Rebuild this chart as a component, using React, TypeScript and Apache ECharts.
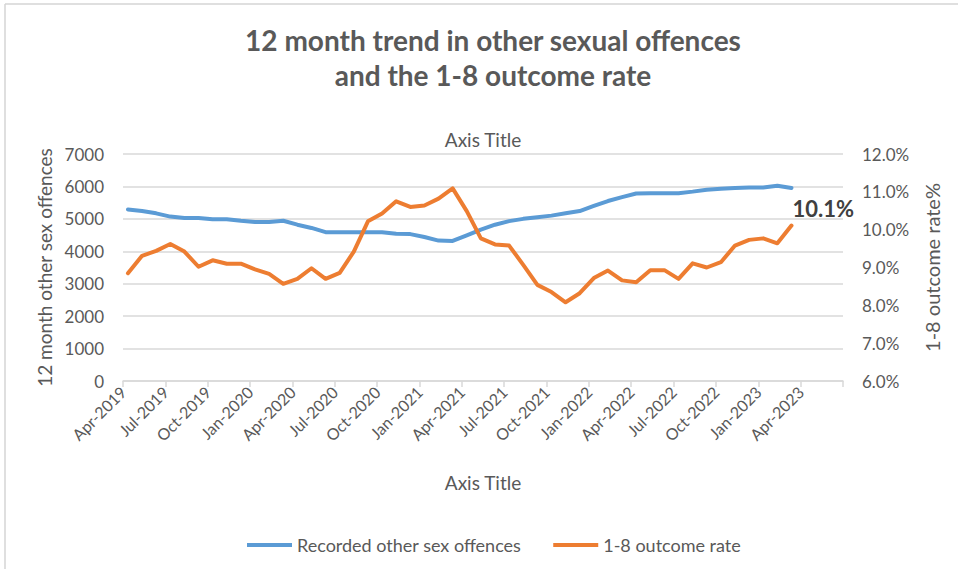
import React, { useEffect, useRef } from 'react';
import * as echarts from 'echarts';

const tickLabels = [
  'Apr-2019', 'Jul-2019', 'Oct-2019', 'Jan-2020', 'Apr-2020', 'Jul-2020',
  'Oct-2020', 'Jan-2021', 'Apr-2021', 'Jul-2021', 'Oct-2021', 'Jan-2022',
  'Apr-2022', 'Jul-2022', 'Oct-2022', 'Jan-2023', 'Apr-2023',
];

// Monthly values, Apr-2019 .. Mar-2023
const recorded = [
  5290, 5240, 5170, 5070, 5030, 5030, 4990, 4990, 4940, 4900, 4900, 4940,
  4820, 4720, 4590, 4590, 4590, 4590, 4590, 4540, 4530, 4440, 4330, 4320,
  4490, 4670, 4820, 4930, 5000, 5050, 5100, 5170, 5240, 5400, 5550, 5670,
  5780, 5790, 5790, 5790, 5840, 5900, 5930, 5950, 5970, 5970, 6020, 5950,
];

const outcomeRate = [
  8.85, 9.31, 9.44, 9.62, 9.42, 9.02, 9.19, 9.1, 9.1, 8.95, 8.83, 8.57,
  8.7, 8.98, 8.7, 8.86, 9.42, 10.22, 10.43, 10.75, 10.6, 10.64, 10.82, 11.09,
  10.49, 9.77, 9.61, 9.58, 9.07, 8.54, 8.35, 8.08, 8.32, 8.72, 8.92, 8.66,
  8.61, 8.93, 8.93, 8.7, 9.11, 9.0, 9.14, 9.58, 9.73, 9.77, 9.64, 10.11,
];

const seriesNames = ['Recorded other sex offences', '1-8 outcome rate'];

// points sit a little after the start of each month on the date axis
const dayFraction = 0.35;

export default function App() {
  const ref = useRef<HTMLDivElement>(null);

  useEffect(() => {
    if (!ref.current) return;
    const chart = echarts.init(ref.current, null, { renderer: 'svg' });
    const font = 'Lato, "Open Sans", sans-serif';
    const grey = '#595959';
    const gridGrey = '#D9D9D9';

    chart.setOption({
      animation: false,
      backgroundColor: '#ffffff',
      textStyle: { fontFamily: font },
      title: {
        text: '12 month trend in other sexual offences\nand the 1-8 outcome rate',
        left: 488,
        textAlign: 'center',
        top: 17,
        textStyle: {
          fontFamily: font,
          fontWeight: 'bold',
          fontSize: 28,
          lineHeight: 35,
          color: grey,
        },
      },
      graphic: [
        { type: 'line', shape: { x1: 5, y1: 4, x2: 958, y2: 4 }, style: { stroke: '#D4D4D4', lineWidth: 1.5 } },
        { type: 'line', shape: { x1: 5, y1: 4, x2: 5, y2: 569 }, style: { stroke: '#D4D4D4', lineWidth: 1.5 } },
      ],
      grid: { left: 123, right: 115, top: 154, bottom: 188 },
      legend: {
        top: 531,
        left: 242,
        icon: 'rect',
        itemWidth: 45,
        itemHeight: 4,
        itemGap: 32,
        textStyle: { color: grey, fontSize: 18, fontFamily: font },
        data: seriesNames,
      },
      xAxis: [
        {
          type: 'value',
          min: 0,
          max: 51,
          interval: 3,
          position: 'bottom',
          axisLine: { show: true, lineStyle: { color: gridGrey, width: 1.5 } },
          axisTick: { show: true, length: 6, lineStyle: { color: gridGrey, width: 1.5 } },
          axisLabel: {
            rotate: 45,
            color: grey,
            fontSize: 16,
            margin: 8,
            formatter: (v: number) => tickLabels[Math.round(v / 3)] ?? '',
          },
          splitLine: { show: false },
          name: 'Axis Title',
          nameLocation: 'middle',
          nameGap: 92,
          nameTextStyle: { color: grey, fontSize: 19 },
        },
        {
          type: 'value',
          min: 0,
          max: 51,
          position: 'top',
          axisLine: { show: false },
          axisTick: { show: false },
          axisLabel: { show: false },
          splitLine: { show: false },
          name: 'Axis Title',
          nameLocation: 'middle',
          nameGap: 5,
          nameTextStyle: { color: grey, fontSize: 19 },
        },
      ],
      yAxis: [
        {
          type: 'value',
          min: 0,
          max: 7000,
          interval: 1000,
          position: 'left',
          axisLine: { show: false },
          axisTick: { show: false },
          axisLabel: { color: grey, fontSize: 17, margin: 19, formatter: (v: number) => String(v) },
          splitLine: { show: true, lineStyle: { color: gridGrey, width: 1.5 } },
          name: '12 month other sex offences',
          nameLocation: 'middle',
          nameRotate: 90,
          nameGap: 68,
          nameTextStyle: { color: grey, fontSize: 19 },
        },
        {
          type: 'value',
          min: 6,
          max: 12,
          interval: 1,
          position: 'right',
          axisLine: { show: false },
          axisTick: { show: false },
          axisLabel: {
            color: grey,
            fontSize: 17,
            margin: 19,
            formatter: (v: number) => v.toFixed(1) + '%',
          },
          splitLine: { show: false },
          name: '1-8 outcome rate%',
          nameLocation: 'middle',
          nameRotate: 90,
          nameGap: 79,
          nameTextStyle: { color: grey, fontSize: 20 },
        },
      ],
      series: [
        {
          name: seriesNames[0],
          type: 'line',
          xAxisIndex: 0,
          yAxisIndex: 0,
          symbol: 'none',
          data: recorded.map((v, i) => [i + dayFraction, v]),
          lineStyle: { color: '#5B9BD5', width: 4, cap: 'round', join: 'round' },
          itemStyle: { color: '#5B9BD5' },
        },
        {
          name: seriesNames[1],
          type: 'line',
          xAxisIndex: 0,
          yAxisIndex: 1,
          symbol: 'none',
          data: outcomeRate.map((v, i) => [i + dayFraction, v]),
          lineStyle: { color: '#ED7D31', width: 4, cap: 'round', join: 'round' },
          itemStyle: { color: '#ED7D31' },
          endLabel: {
            show: true,
            formatter: (p: any) => Number(p.value[1]).toFixed(1) + '%',
            color: '#404040',
            fontWeight: 'bold',
            fontSize: 22,
            fontFamily: font,
            distance: 1,
            offset: [0, -17],
          },
        },
      ],
    });

    return () => chart.dispose();
  }, []);

  return (
    <div
      ref={ref}
      style={{ position: 'fixed', left: 0, top: 0, width: 958, height: 569 }}
    />
  );
}
